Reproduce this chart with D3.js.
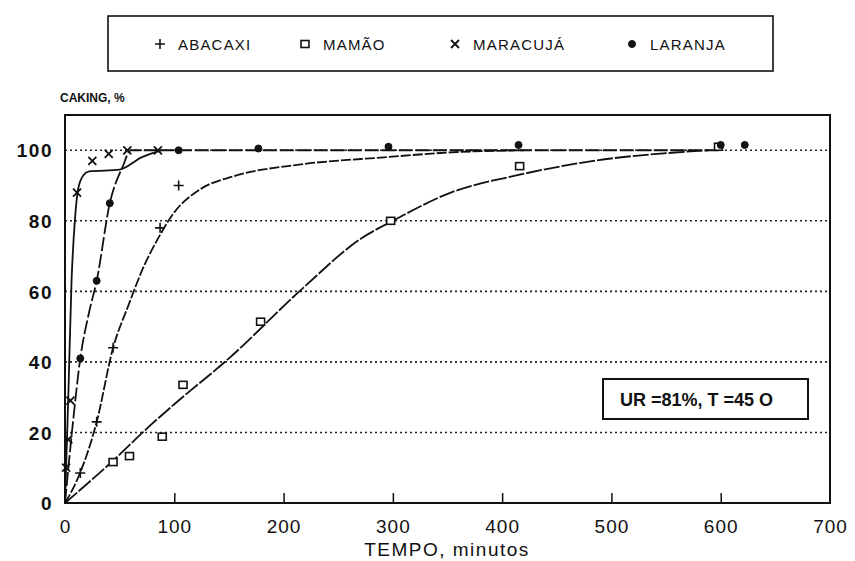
<!DOCTYPE html>
<html>
<head>
<meta charset="utf-8">
<script src="https://cdn.jsdelivr.net/npm/d3@7"></script>
<style>
  body { margin: 0; background: #fff; }
  svg text { font-family: "Liberation Sans", Arial, sans-serif; fill: #111; }
</style>
</head>
<body>
<div id="chart"></div>
<script>
// series names (legend order)
var categories = ["ABACAXI", "MAMÃO", "MARACUJÁ", "LARANJA"];
var markerTypes = ["plus", "square", "cross", "circle"];

// measured points [tempo, caking %]
var abacaxiPts = [[14, 8.5], [29, 23], [44, 44], [87, 78], [104, 90]];
var mamaoPts = [[44, 11.6], [59, 13.3], [89, 18.8], [108, 33.5], [179, 51.4], [298, 80], [416, 95.5], [598, 101]];
var maracujaPts = [[1, 10], [3, 18], [5, 29], [11, 88], [25, 97], [40, 99], [57, 100], [85, 100]];
var laranjaPts = [[14, 41], [29, 63], [41, 85], [104, 100], [177, 100.5], [296, 101], [415, 101.5], [600, 101.5], [622, 101.5]];

// fitted curves drawn through the points
var abacaxiFit = [[0, 0], [11, 6.5], [29, 23], [44, 44], [58, 56], [72, 67], [87, 76], [99, 82], [124, 89], [154, 92.6], [216, 96], [292, 98], [353, 99.4], [420, 100]];
var mamaoFit = [[0, 0], [44, 12], [78, 22], [100, 28], [150, 41], [218, 61], [271, 75], [300, 80], [353, 88], [415, 93], [475, 96.6], [589, 100]];
var maracujaFit = [[0, 0], [3, 30], [6, 63], [9, 80], [12, 89], [17, 93], [22, 94], [50, 94.5], [70, 98], [88, 100]];
var laranjaFit = [[0, 0], [7, 22], [14, 41], [22, 54], [29, 63], [41, 85], [53, 95.5], [60, 100], [600, 100]];

var xTicks = [0, 100, 200, 300, 400, 500, 600, 700];
var yTicks = [0, 20, 40, 60, 80, 100];
var annotation = "UR =81%, T =45 O";

var width = 855, height = 561;
var margin = {top: 115, right: 25, bottom: 58, left: 65};

var svg = d3.select("#chart").append("svg")
    .attr("width", width)
    .attr("height", height);

// set the ranges
var x = d3.scaleLinear().domain([0, 700]).range([margin.left, width - margin.right]);
var y = d3.scaleLinear().domain([0, 110]).range([height - margin.bottom, margin.top]);

// dotted grid lines
svg.append("g").selectAll("line")
    .data(yTicks.filter(function(d) { return d > 0; }))
    .enter().append("line")
    .attr("x1", x(0)).attr("x2", x(700))
    .attr("y1", function(d) { return y(d); })
    .attr("y2", function(d) { return y(d); })
    .attr("stroke", "#222")
    .attr("stroke-width", 1.6)
    .attr("stroke-dasharray", "2,3");

// x axis (ticks point inward)
var xAxis = svg.append("g")
    .attr("transform", "translate(0," + y(0) + ")")
    .call(d3.axisBottom(x).tickValues(xTicks).tickSize(-10).tickPadding(30).tickSizeOuter(0));
xAxis.select(".domain").remove();
xAxis.selectAll(".tick line").attr("stroke", "#111").attr("stroke-width", 1.5)
    .filter(function(d) { return d === 0 || d === 700; }).remove();
xAxis.selectAll(".tick text").attr("font-size", 19).attr("letter-spacing", 1).attr("dy", 0);

// y axis labels
var yAxis = svg.append("g")
    .attr("transform", "translate(" + x(0) + ",0)")
    .call(d3.axisLeft(y).tickValues(yTicks).tickSize(0).tickPadding(12));
yAxis.select(".domain").remove();
yAxis.selectAll(".tick text").attr("font-size", 19).attr("font-weight", "bold")
    .attr("letter-spacing", 1.5).attr("dy", "0.35em");

// frame
svg.append("rect")
    .attr("x", x(0)).attr("y", y(110))
    .attr("width", x(700) - x(0)).attr("height", y(0) - y(110))
    .attr("fill", "none").attr("stroke", "#111").attr("stroke-width", 2);

// axis titles
svg.append("text").attr("x", 60).attr("y", 102)
    .attr("font-size", 12).attr("font-weight", "bold").text("CAKING, %");
svg.append("text").attr("x", 447).attr("y", 556)
    .attr("text-anchor", "middle").attr("font-size", 19).attr("letter-spacing", 1.5)
    .text("TEMPO, minutos");

// curves
var line = d3.line()
    .x(function(d) { return x(d[0]); })
    .y(function(d) { return y(d[1]); })
    .curve(d3.curveMonotoneX);

var fits = [
  {data: abacaxiFit, dash: "10,2"},
  {data: mamaoFit, dash: "16,2"},
  {data: maracujaFit, dash: null},
  {data: laranjaFit, dash: "14,3"}
];
svg.append("g").selectAll("path")
    .data(fits)
    .enter().append("path")
    .attr("d", function(d) { return line(d.data); })
    .attr("fill", "none")
    .attr("stroke", "#111")
    .attr("stroke-width", 1.8)
    .attr("stroke-dasharray", function(d) { return d.dash; });

// markers
function drawMarker(g, type, cx, cy) {
  if (type === "plus") {
    g.append("path").attr("d", "M" + (cx - 5) + "," + cy + "H" + (cx + 5) + "M" + cx + "," + (cy - 5) + "V" + (cy + 5))
      .attr("stroke", "#111").attr("stroke-width", 1.6);
  } else if (type === "square") {
    g.append("rect").attr("x", cx - 4).attr("y", cy - 3.5).attr("width", 8).attr("height", 7)
      .attr("fill", "#fff").attr("stroke", "#111").attr("stroke-width", 1.6);
  } else if (type === "cross") {
    g.append("path").attr("d", "M" + (cx - 4) + "," + (cy - 4) + "L" + (cx + 4) + "," + (cy + 4) + "M" + (cx + 4) + "," + (cy - 4) + "L" + (cx - 4) + "," + (cy + 4))
      .attr("stroke", "#111").attr("stroke-width", 1.8);
  } else {
    g.append("circle").attr("cx", cx).attr("cy", cy).attr("r", 3.5)
      .attr("fill", "#111").attr("stroke", "#111").attr("stroke-width", 1);
  }
}

var pointSets = [abacaxiPts, mamaoPts, maracujaPts, laranjaPts];
var marks = svg.append("g");
pointSets.forEach(function(pts, i) {
  pts.forEach(function(p) {
    drawMarker(marks, markerTypes[i], x(p[0]), y(p[1]));
  });
});

// legend
var legend = svg.append("g");
legend.append("rect")
    .attr("x", 108).attr("y", 16).attr("width", 665).attr("height", 55)
    .attr("fill", "none").attr("stroke", "#111").attr("stroke-width", 1.6);
var legendX = [160, 305, 455, 632];
categories.forEach(function(name, i) {
  drawMarker(legend, markerTypes[i], legendX[i], 44);
  legend.append("text")
    .attr("x", legendX[i] + 18).attr("y", 50)
    .attr("font-size", 15).attr("letter-spacing", 1.2)
    .attr("fill", "#222")
    .text(name);
});

// condition box
svg.append("rect")
    .attr("x", 603).attr("y", 379).attr("width", 205).attr("height", 40)
    .attr("fill", "#fff").attr("stroke", "#111").attr("stroke-width", 2);
svg.append("text").attr("x", 620).attr("y", 406)
    .attr("font-size", 18).attr("font-weight", "bold").text(annotation);
</script>
</body>
</html>
